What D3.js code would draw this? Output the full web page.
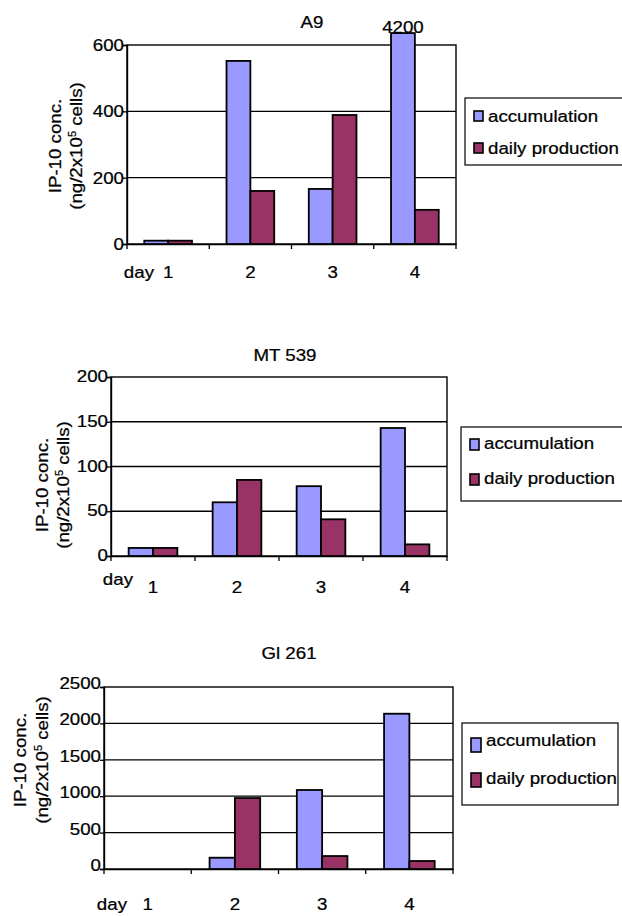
<!DOCTYPE html>
<html>
<head>
<meta charset="utf-8">
<script src="https://cdn.jsdelivr.net/npm/d3@7"></script>
<style>
  body { margin: 0; background: #fff; }
  text { font-family: "Liberation Sans", Arial, sans-serif; fill: #000; stroke: #000; stroke-width: 0.25px; }
</style>
</head>
<body>
<div id="chart"></div>
<script>
// data
const days = ['1', '2', '3', '4'];
const seriesNames = ['accumulation', 'daily production'];
const seriesColors = ['#9999ff', '#993366'];

const a9Accum = [10, 552, 166, 4200];
const a9Daily = [10, 160, 389, 103];
const a9Ticks = [0, 200, 400, 600];

const mtAccum = [9, 60, 78, 143];
const mtDaily = [9, 85, 41, 13];
const mtTicks = [0, 50, 100, 150, 200];

const glAccum = [0, 155, 1085, 2133];
const glDaily = [0, 975, 178, 110];
const glTicks = [0, 500, 1000, 1500, 2000, 2500];

const FS = 17, SX = 1.1;

var svg = d3.select('#chart').append('svg')
  .attr('width', 622).attr('height', 916);

// text with the wide look of the original font
function txt(g, x, y, s, anchor, rot) {
  return g.append('text')
    .attr('transform', `translate(${x},${y})${rot ? ' rotate(' + rot + ')' : ''} scale(${SX},1)`)
    .attr('text-anchor', anchor || 'start')
    .attr('font-size', FS)
    .text(s);
}

function drawPanel(p) {
  var g = svg.append('g');
  var y = d3.scaleLinear().domain([0, p.ticks[p.ticks.length - 1]]).range([p.bottom, p.top]);
  var x0 = d3.scaleBand().domain(days).range([p.left, p.right]);
  var x1 = d3.scaleBand().domain(seriesNames)
    .range([x0.bandwidth() * 0.21, x0.bandwidth() * 0.79]);

  // grid
  g.selectAll('.grid').data(p.ticks.slice(1, -1)).enter().append('line')
    .attr('x1', p.left).attr('x2', p.right)
    .attr('y1', d => y(d)).attr('y2', d => y(d))
    .attr('stroke', '#000').attr('stroke-width', 1.3);
  g.append('rect')
    .attr('x', p.left).attr('y', p.top)
    .attr('width', p.right - p.left).attr('height', p.bottom - p.top)
    .attr('fill', 'none').attr('stroke', '#000').attr('stroke-width', 1.4);

  // y axis
  var ya = d3.axisLeft(y).tickValues(p.ticks).tickSize(4).tickFormat('');
  g.append('g').attr('transform', `translate(${p.left},0)`).call(ya)
    .call(a => a.select('.domain').attr('stroke-width', 1.4))
    .call(a => a.selectAll('.tick line').attr('stroke-width', 1.3));
  p.ticks.forEach(t => txt(g, p.left - 3, y(t) + p.tickDy, t, 'end'));

  // x axis
  var xa = d3.axisBottom(x0).tickValues([]).tickSizeOuter(0);
  g.append('g').attr('transform', `translate(0,${p.bottom})`).call(xa)
    .call(a => a.select('.domain').attr('stroke-width', 1.4));
  x0.domain().concat(['end']).forEach((d, i) => {
    var xx = p.left + i * x0.step();
    g.append('line').attr('x1', xx).attr('x2', xx)
      .attr('y1', p.bottom).attr('y2', p.bottom + 5)
      .attr('stroke', '#000').attr('stroke-width', 1.3);
  });
  days.forEach(d => txt(g, x0(d) + x0.bandwidth() / 2, p.xLabelY, d, 'middle'));
  txt(g, p.dayX, p.dayY, 'day', 'end');

  // bars
  var rows = days.map((d, i) => ({day: d, vals: [p.accum[i], p.daily[i]]}));
  var grp = g.selectAll('.day').data(rows).enter().append('g')
    .attr('transform', d => `translate(${x0(d.day)},0)`);
  grp.selectAll('rect').data(d => d.vals.map((v, k) => ({k: k, v: v})))
    .enter().filter(d => d.v > 0).append('rect')
    .attr('x', d => x1(seriesNames[d.k]))
    .attr('width', x1.bandwidth())
    .attr('y', d => y(Math.min(d.v, p.cap)))
    .attr('height', d => p.bottom - y(Math.min(d.v, p.cap)))
    .attr('fill', d => seriesColors[d.k])
    .attr('stroke', '#000').attr('stroke-width', 1.8);
  // value label for the clipped bar
  rows.forEach((r, i) => {
    if (r.vals[0] > p.cap)
      txt(g, x0(r.day) + x1(seriesNames[0]) + x1.bandwidth() / 2, y(p.cap), r.vals[0], 'middle');
  });

  // title
  txt(g, p.titleX, p.titleY, p.title, 'middle');

  // y axis title
  txt(g, p.yl1, p.ylc, 'IP-10 conc.', 'middle', -90);
  var t2 = txt(g, p.yl2, p.ylc, '', 'middle', -90);
  t2.append('tspan').text('(ng/2x10');
  t2.append('tspan').attr('font-size', 10).attr('dy', -6).text('5');
  t2.append('tspan').attr('dy', 6).text(' cells)');

  // legend
  var L = p.legend;
  g.append('rect').attr('x', L.x).attr('y', L.y).attr('width', L.w).attr('height', L.h)
    .attr('fill', '#fff').attr('stroke', '#000').attr('stroke-width', 1.2);
  seriesNames.forEach((s, k) => {
    g.append('rect').attr('x', L.x + 9).attr('y', L.sy[k] - L.sh / 2)
      .attr('width', L.sw).attr('height', L.sh)
      .attr('fill', seriesColors[k]).attr('stroke', '#000').attr('stroke-width', 1.6);
    txt(g, L.x + 9 + L.sw + 5, L.ty[k], s, 'start');
  });
}

drawPanel({
  title: 'A9', titleX: 312, titleY: 28,
  accum: a9Accum, daily: a9Daily, ticks: a9Ticks, cap: 636,
  left: 127, right: 456, top: 45, bottom: 244, tickDy: 6,
  xLabelY: 278, dayX: 154, dayY: 278,
  yl1: 61, yl2: 82, ylc: 146,
  legend: {x: 465, y: 98, w: 165, h: 67, sw: 9, sh: 10, sy: [116, 148], ty: [122, 154]}
});

drawPanel({
  title: 'MT 539', titleX: 285, titleY: 361,
  accum: mtAccum, daily: mtDaily, ticks: mtTicks, cap: 1e9,
  left: 111, right: 447, top: 377, bottom: 556, tickDy: 5,
  xLabelY: 593, dayX: 133, dayY: 585,
  yl1: 48, yl2: 69, ylc: 485,
  legend: {x: 461, y: 427, w: 170, h: 74, sw: 9, sh: 11, sy: [444.5, 479.5], ty: [449, 484]}
});

drawPanel({
  title: 'Gl 261', titleX: 289, titleY: 659,
  accum: glAccum, daily: glDaily, ticks: glTicks, cap: 1e9,
  left: 104, right: 453, top: 687, bottom: 869, tickDy: 2,
  xLabelY: 910, dayX: 127, dayY: 910,
  yl1: 26, yl2: 48, ylc: 760,
  legend: {x: 462, y: 723, w: 156, h: 82, sw: 10, sh: 14, sy: [745, 780], ty: [746, 784]}
});
</script>
</body>
</html>
